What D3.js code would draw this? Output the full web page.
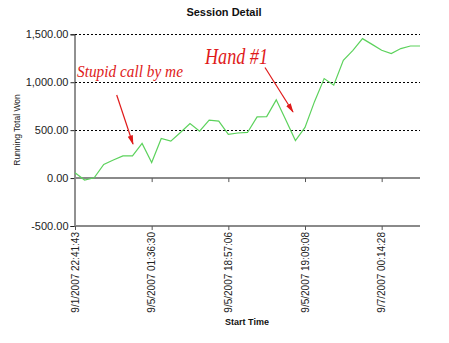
<!DOCTYPE html>
<html><head><meta charset="utf-8">
<script src="https://cdn.jsdelivr.net/npm/d3@7"></script>
<style>html,body{margin:0;padding:0;background:#fff;}svg{display:block;}</style>
</head><body>
<svg id="c" width="449" height="343"></svg>
<script>
const values = [55,-21,3,143,188,232,232,361,163,413,385,476,570,490,604,594,455,470,476,639,642,816,605,392,528,800,1038,969,1229,1333,1455,1395,1333,1299,1351,1378,1378];
const tickIndex = [0,8,16,24,32];
const tickLabels = ["9/1/2007 22:41:43","9/5/2007 01:36:30","9/5/2007 18:57:06","9/5/2007 19:09:08","9/7/2007 00:14:28"];
const yTicks = [-500,0,500,1000,1500];
const gridValues = [500,1000,1500];
const annotations = [
  {text:"Stupid call by me", x:77, y:77, size:17, len:106, from:[116.7,95], to:[133,144]},
  {text:"Hand #1", x:205, y:64, size:23, len:63, from:[265,67.5], to:[293,112]}
];

const svg = d3.select("#c");
const x = d3.scalePoint().domain(d3.range(values.length)).range([75,420]);
const y = d3.scaleLinear().domain([-500,1500]).range([226,34.3]);
const font = "'Liberation Sans', Arial, sans-serif";
const fmt = d3.format(",.2f");

svg.append("text").attr("x",224).attr("y",16).attr("text-anchor","middle")
  .attr("font-family",font).attr("font-weight","bold").attr("font-size",11).attr("fill","#111")
  .text("Session Detail");

// gridlines
svg.append("g").selectAll("line").data(gridValues).join("line")
  .attr("x1",75).attr("x2",420).attr("y1",d=>Math.round(y(d))+0.5).attr("y2",d=>Math.round(y(d))+0.5)
  .attr("stroke","#000").attr("stroke-width",1).attr("stroke-dasharray","2,2");

// y axis
const yAxis = svg.append("g").attr("transform","translate(74.5,0)")
  .call(d3.axisLeft(y).tickValues(yTicks).tickSize(4).tickPadding(2).tickFormat(d=>fmt(d).replace("\u2212","-")));
yAxis.select(".domain").attr("stroke","#222");
yAxis.selectAll(".tick line").attr("stroke","#222");
yAxis.selectAll("text").attr("font-family",font).attr("font-size",11).attr("fill","#222");

// zero line with ticks
const xAxisZero = svg.append("g").attr("transform",`translate(0,${y(0)})`)
  .call(d3.axisBottom(x).tickValues(tickIndex.slice(1)).tickSize(4).tickFormat(""));
xAxisZero.select(".domain").attr("stroke","#8a8a8a").attr("stroke-width",2).attr("d","M74.5,0H420");
xAxisZero.selectAll(".tick line").attr("stroke","#555");

// bottom axis
const xAxis = svg.append("g").attr("transform",`translate(0,${y(-500)})`)
  .call(d3.axisBottom(x).tickValues(tickIndex).tickSize(4).tickFormat(""));
xAxis.select(".domain").attr("stroke","#8a8a8a").attr("stroke-width",2).attr("d","M74.5,0H420");
xAxis.selectAll(".tick line").attr("stroke","#555");

// x labels
svg.append("g").selectAll("text").data(tickIndex).join("text")
  .attr("transform",d=>`translate(${x(d)+3.5},232) rotate(-90)`)
  .attr("text-anchor","end").attr("font-family",font).attr("font-size",10).attr("fill","#222")
  .text((d,i)=>tickLabels[i]);

svg.append("text").attr("x",247).attr("y",325).attr("text-anchor","middle")
  .attr("font-family",font).attr("font-weight","bold").attr("font-size",9).attr("fill","#111")
  .text("Start Time");

svg.append("text").attr("transform","translate(20,130) rotate(-90)").attr("text-anchor","middle")
  .attr("font-family",font).attr("font-size",8.5).attr("fill","#222")
  .text("Running Total Won");

// line
svg.append("path").datum(values)
  .attr("d",d3.line().x((d,i)=>x(i)).y(d=>y(d)))
  .attr("fill","none").attr("stroke","#5cd25c").attr("stroke-width",1.2);

// annotations
const defs = svg.append("defs");
defs.append("marker").attr("id","ah").attr("viewBox","0 0 10 10").attr("refX",9).attr("refY",5)
  .attr("markerWidth",8).attr("markerHeight",8).attr("orient","auto")
  .append("path").attr("d","M0,2.2L10,5L0,7.8Z").attr("fill","#e01a1a");

const ann = svg.append("g");
ann.selectAll("text").data(annotations).join("text")
  .attr("x",d=>d.x).attr("y",d=>d.y).attr("font-family","'Liberation Serif', serif")
  .attr("font-style","italic").attr("font-size",d=>d.size).attr("fill","#e01a1a")
  .attr("textLength",d=>d.len).attr("lengthAdjust","spacingAndGlyphs")
  .text(d=>d.text);
ann.selectAll("line").data(annotations).join("line")
  .attr("x1",d=>d.from[0]).attr("y1",d=>d.from[1]).attr("x2",d=>d.to[0]).attr("y2",d=>d.to[1])
  .attr("stroke","#e01a1a").attr("stroke-width",1.2).attr("marker-end","url(#ah)");
</script>
</body></html>
